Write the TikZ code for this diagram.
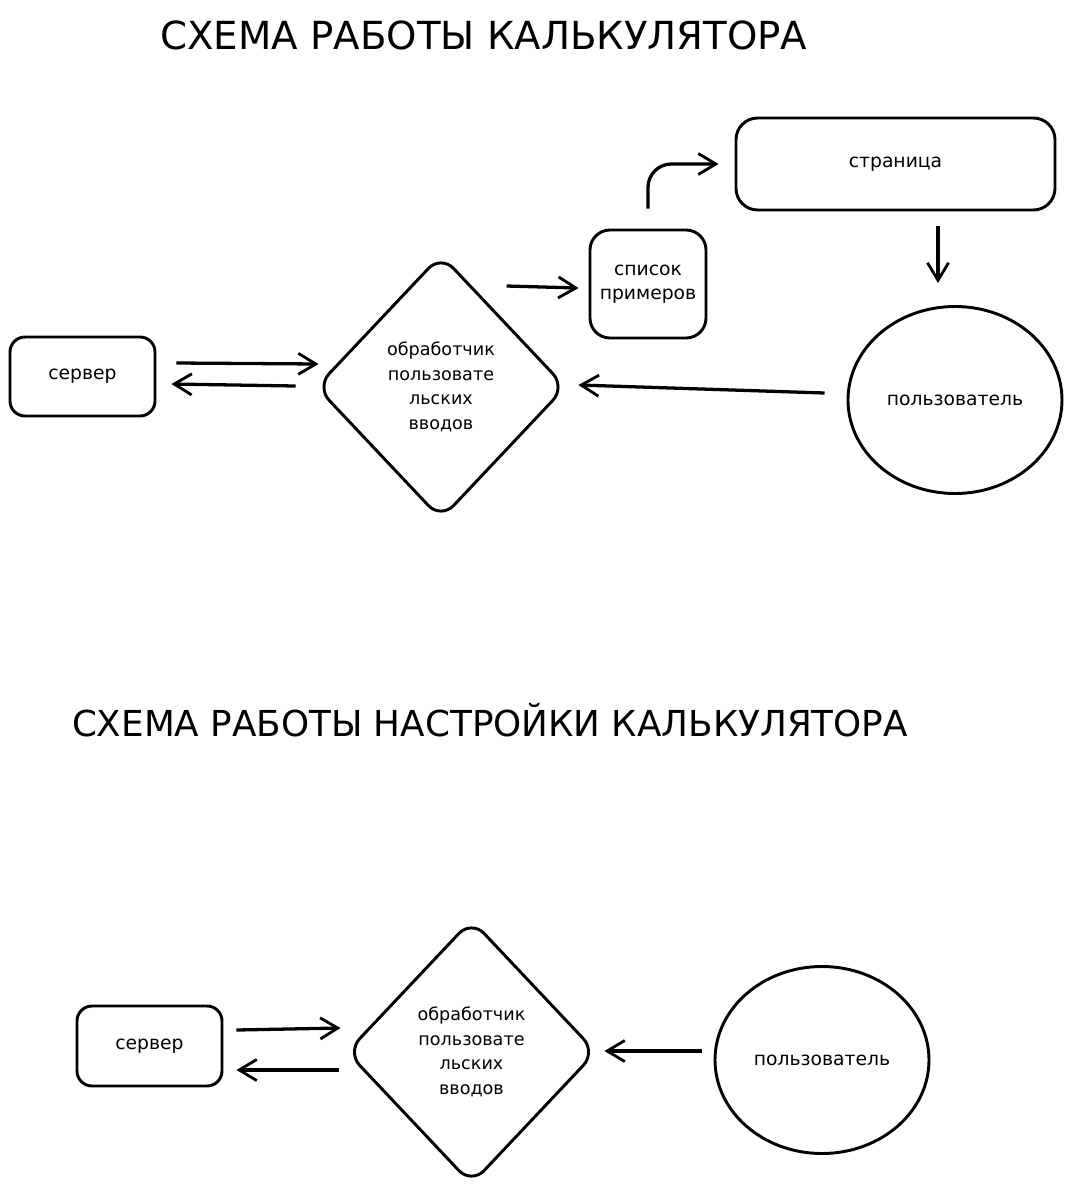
\documentclass[tikz,border=0pt]{standalone}
\usepackage{fontspec}
\setmainfont{DejaVu Sans}
\usetikzlibrary{arrows.meta,calc,shapes.geometric}

\tikzset{
  box/.style={draw,line width=2.5pt,rounded corners=0.5cm,inner sep=0pt,align=center,font=\fontsize{16}{21}\selectfont},
  usrnode/.style={draw,ellipse,line width=2.5pt,minimum width=6.42cm,minimum height=5.61cm,inner sep=0pt,font=\fontsize{16}{21}\selectfont},
  handler/.style={draw,diamond,line width=2.5pt,rounded corners=0.55cm,aspect=0.944,minimum width=7.5cm,minimum height=7.95cm,inner sep=0pt,align=center,font=\fontsize{15}{21}\selectfont},
  arr/.style={line width=2.8pt,-{Straight Barb[length=15pt,width=18pt,line width=2.4pt]}},
  heading/.style={font=\fontsize{33}{38}\selectfont}
}

\begin{document}
\begin{tikzpicture}[x=0.03cm,y=-0.03cm]
\useasboundingbox (0,0) rectangle (1071,1193);

% first scheme
\node[heading] (title1) at (484,35) {СХЕМА РАБОТЫ КАЛЬКУЛЯТОРА};
\node[box,minimum width=4.35cm,minimum height=2.37cm,rounded corners=0.45cm] (srv1) at (82.5,376.5) {сервер};
\node[handler] (dia1) at (441,387) {обработчик\\пользовате\\льских\\вводов};
\node[box,minimum width=3.48cm,minimum height=3.24cm,rounded corners=0.6cm] (lst) at (648,284) {список\\примеров};
\node[box,minimum width=9.57cm,minimum height=2.76cm,rounded corners=0.65cm] (page) at (895.5,164) {страница};
\node[usrnode] (usr1) at (955,400) {пользователь};

\draw[arr] ($(srv1.east)+(20,-13.5)$) -- ($(dia1.west)+(4,-23)$);
\draw[arr] ($(dia1.west)+(-19,-1)$) -- ($(srv1.east)+(15,7.5)$);
\draw[arr] ($(lst.west)+(-82,2)$) -- ($(lst.west)+(-10,4)$);
\draw[arr,rounded corners=0.7cm,shorten <=0.6cm,shorten >=0.48cm] (lst.north) |- (page.west);
\draw[arr] ($(page.south)+(42.5,15)$) -- ($(usr1.north)+(-17,-22)$);
\draw[arr] ($(usr1.west)+(-22,-7)$) -- ($(dia1.east)+(11,-2)$);

% second scheme
\node[heading,font=\fontsize{30.5}{36}\selectfont] (title2) at (490,720) {СХЕМА РАБОТЫ НАСТРОЙКИ КАЛЬКУЛЯТОРА};
\node[box,minimum width=4.35cm,minimum height=2.4cm,rounded corners=0.45cm] (srv2) at (149.5,1046) {сервер};
\node[handler] (dia2) at (471.5,1052) {обработчик\\пользовате\\льских\\вводов};
\node[usrnode] (usr2) at (822,1060) {пользователь};

\draw[arr] ($(srv2.east)+(13,-16)$) -- ($(dia2.west)+(-4.5,-24)$);
\draw[arr] ($(dia2.west)+(-6.5,18)$) -- ($(srv2.east)+(13,24)$);
\draw[arr] ($(usr2.west)+(-12,-9)$) -- ($(dia2.east)+(6.5,-1)$);
\end{tikzpicture}
\end{document}
